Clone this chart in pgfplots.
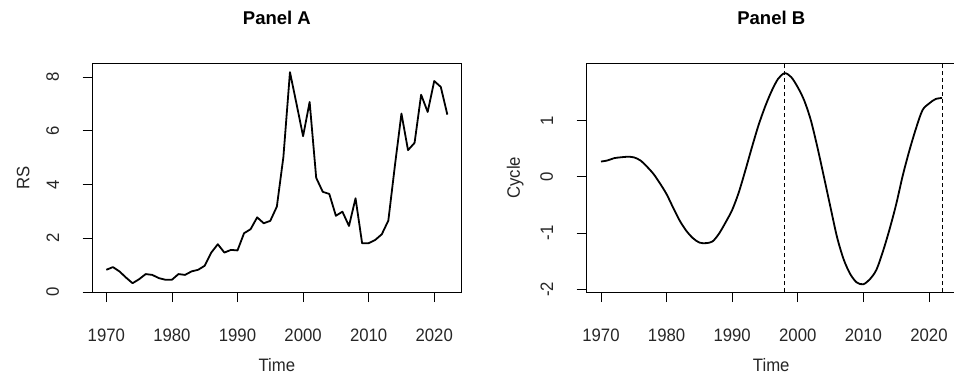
\documentclass[border=0pt]{standalone}
\usepackage{pgfplots}
\pgfplotsset{compat=1.18}
\usepackage{fontspec}
\setmainfont{Liberation Sans}
\newfontfamily\labfont{Liberation Sans}[FakeStretch=0.93]

\pgfplotstableread{
year rs
1970 0.83
1971 0.93
1972 0.77
1973 0.54
1974 0.33
1975 0.48
1976 0.67
1977 0.64
1978 0.52
1979 0.46
1980 0.46
1981 0.67
1982 0.64
1983 0.77
1984 0.83
1985 0.98
1986 1.47
1987 1.78
1988 1.47
1989 1.57
1990 1.55
1991 2.19
1992 2.34
1993 2.78
1994 2.56
1995 2.65
1996 3.18
1997 5.03
1998 8.18
1999 7.00
2000 5.80
2001 7.07
2002 4.25
2003 3.73
2004 3.65
2005 2.84
2006 2.99
2007 2.46
2008 3.49
2009 1.82
2010 1.82
2011 1.94
2012 2.15
2013 2.66
2014 4.70
2015 6.64
2016 5.28
2017 5.55
2018 7.34
2019 6.70
2020 7.85
2021 7.63
2022 6.60
}\rsdata

\pgfplotstableread{
year cyc
1970 0.27
1971 0.29
1972 0.33
1973 0.345
1974 0.355
1975 0.345
1976 0.29
1977 0.18
1978 0.05
1979 -0.12
1980 -0.31
1981 -0.55
1982 -0.78
1983 -0.96
1984 -1.09
1985 -1.17
1986 -1.18
1987 -1.15
1988 -1.01
1989 -0.81
1990 -0.59
1991 -0.28
1992 0.11
1993 0.52
1994 0.91
1995 1.24
1996 1.52
1997 1.74
1998 1.84
1999 1.77
2000 1.59
2001 1.35
2002 1.00
2003 0.52
2004 -0.01
2005 -0.55
2006 -1.08
2007 -1.47
2008 -1.73
2009 -1.88
2010 -1.91
2011 -1.82
2012 -1.65
2013 -1.32
2014 -0.93
2015 -0.49
2016 0.02
2017 0.46
2018 0.85
2019 1.18
2020 1.30
2021 1.38
2022 1.40
}\cycdata

\pgfplotsset{
  rstyle/.style={
    scale only axis,
    height=228.8pt,
    axis line style={black, line width=0.8pt},
    tick style={black, line width=0.8pt},
    tick align=outside,
    major tick length=10pt,
    xtick pos=bottom,
    ytick pos=left,
    xtick={1970,1980,1990,2000,2010,2020},
    xticklabels={1970,1980,1990,2000,2010,2020},
    tick label style={font=\labfont\fontsize{18}{18}\selectfont, text=black!85},
    xticklabel style={anchor=north, inner sep=0pt},
    xticklabel shift=27pt,
    yticklabel style={rotate=90, anchor=south, inner sep=0pt},
    yticklabel shift=23.5pt,
    every axis x label/.style={at={(axis description cs:0.5,0)}, anchor=base, yshift=-79pt, inner sep=0pt, font=\labfont\fontsize{18}{18}\selectfont, text=black!85},
    every axis y label/.style={at={(axis description cs:0,0.5)}, xshift=-63pt, rotate=90, anchor=south, inner sep=0pt, font=\labfont\fontsize{18}{18}\selectfont, text=black!85},
    title style={at={(axis description cs:0.5,1)}, anchor=base, yshift=33pt, inner sep=0pt, font=\fontsize{18.5}{20}\selectfont\bfseries},
    xlabel={Time},
  }
}

\begin{document}
\begin{tikzpicture}[x=1pt,y=1pt]
\useasboundingbox (0,0) rectangle (954,374);
\begin{axis}[rstyle,
  at={(92.7pt,81.9pt)}, anchor=south west,
  width=368.3pt,
  xmin=1967.92, xmax=2024.08, ymin=0, ymax=8.51,
  ytick={0,2,4,6,8}, yticklabels={0,2,4,6,8},
  ylabel={RS}, title={Panel A}]
\addplot[black, line width=1.8pt, line join=round] table[x=year,y=rs] {\rsdata};
\end{axis}
\begin{axis}[rstyle,
  at={(586.7pt,81.9pt)}, anchor=south west,
  width=369.1pt,
  xmin=1967.82, xmax=2024.09, ymin=-2.05, ymax=2.016,
  ytick={-2,-1,0,1}, yticklabels={-2,-1,0,1},
  ylabel={Cycle}, title={Panel B}]
\addplot[black, line width=1.8pt, smooth, tension=0.5] table[x=year,y=cyc] {\cycdata};
\addplot[black, line width=0.8pt, dash pattern=on 4pt off 3pt] coordinates {(1998,-2.05) (1998,2.016)};
\addplot[black, line width=0.8pt, dash pattern=on 4pt off 3pt] coordinates {(2022,-2.05) (2022,2.016)};
\end{axis}
\end{tikzpicture}
\end{document}
